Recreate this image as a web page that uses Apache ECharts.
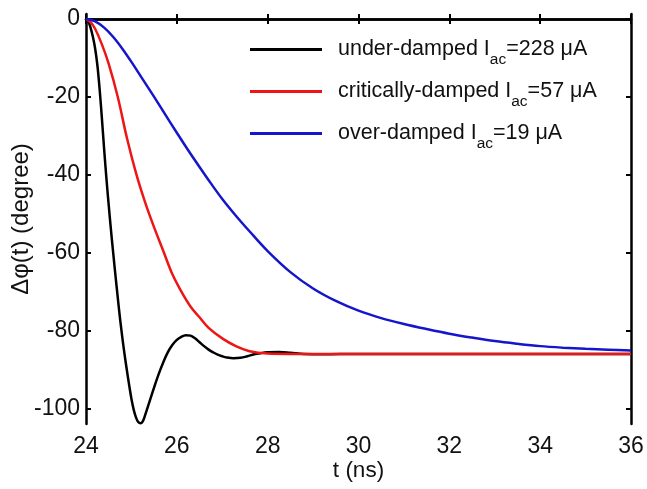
<!DOCTYPE html>
<html>
<head>
<meta charset="utf-8">
<script src="https://cdn.jsdelivr.net/npm/echarts@6/dist/echarts.min.js"></script>
<style>
  html, body { margin: 0; padding: 0; background: #fff; }
  #chart { width: 647px; height: 489px; }
</style>
</head>
<body>
<div id="chart"></div>
<script>
// 读图得到的数据 (t in ns, Δφ in degree)
var xTicks = [24, 26, 28, 30, 32, 34, 36];
var yTicks = [0, -20, -40, -60, -80, -100];

var underT = [24.0, 24.05, 24.1, 24.15, 24.2, 24.25, 24.3, 24.35, 24.4, 24.45, 24.5, 24.55, 24.6, 24.65,
  24.7, 24.75, 24.8, 24.85, 24.9, 24.95, 25.0, 25.05, 25.1, 25.15, 25.2, 25.25, 25.3, 25.4, 25.5, 25.6,
  25.7, 25.8, 25.9, 26.0, 26.1, 26.2, 26.3, 26.4, 26.5, 26.6, 26.7, 26.8, 26.9, 27.0, 27.1, 27.25, 27.4,
  27.55, 27.7, 27.85, 28.0, 28.25, 28.5, 28.8, 29.2, 30, 32, 34, 36];
var underV = [0, -0.6, -2.2, -4.5, -7.5, -11.8, -18, -25.5, -33.5, -41, -47.8, -54.2, -60.2, -66,
  -71.6, -77, -81.8, -86.2, -90.2, -94, -97.5, -100.3, -102.3, -103.5, -103.8, -103.3, -101.8, -98.2, -94.6, -91.2,
  -88.2, -85.6, -83.7, -82.4, -81.6, -81.2, -81.3, -82.0, -83.0, -84.0, -84.9, -85.6, -86.2, -86.6, -86.9, -87.1, -87.0,
  -86.6, -86.1, -85.8, -85.6, -85.5, -85.7, -86.0, -86.1, -86, -86, -86, -86];

var critT = [24.0, 24.1, 24.2, 24.35, 24.5, 24.7, 24.9, 25.1, 25.3, 25.5, 25.7, 25.9, 26.1, 26.3, 26.5,
  26.7, 27.0, 27.3, 27.6, 28.0, 28.5, 30, 32, 34, 36];
var critV = [0, -0.8, -2.5, -6.5, -11.5, -20, -30.5, -39.5, -47, -53.5, -59.5, -65.5, -70, -73.8, -76.6,
  -79.3, -82, -84, -85.3, -85.9, -86, -86, -86, -86, -86];

var overT = [24.0, 24.2, 24.4, 24.6, 24.8, 25.0, 25.25, 25.5, 25.75, 26.0, 26.25, 26.5, 26.75, 27.0, 27.3,
  27.6, 28.0, 28.5, 29.0, 29.5, 30.0, 30.5, 31.0, 31.5, 32.0, 32.5, 33.0, 33.5, 34.0, 34.5, 35.0, 35.5, 36.0];
var overV = [0, -0.6, -2.2, -4.6, -7.6, -11.0, -15.5, -20.0, -24.6, -29.2, -33.7, -38.0, -42.2, -46.2, -50.5,
  -54.5, -59.6, -65.0, -69.2, -72.4, -74.9, -76.8, -78.3, -79.6, -80.8, -81.8, -82.7, -83.4, -84.0, -84.4, -84.7, -84.9, -85.1];

var names = ['under', 'critical', 'over'];
var legendText = {
  under: '{m|under-damped I}{s|ac}{m|=228 μA}',
  critical: '{m|critically-damped I}{s|ac}{m|=57 μA}',
  over: '{m|over-damped I}{s|ac}{m|=19 μA}'
};

function pairs(ts, vs) {
  return ts.map(function (t, i) { return [t, vs[i]]; });
}

var font = 'Liberation Sans, Arial, Helvetica, sans-serif';
var chart = echarts.init(document.getElementById('chart'));

var axisLine = { show: true, lineStyle: { color: '#000', width: 2.5 } };
var tickIn = { show: true, inside: true, length: 5, lineStyle: { color: '#000', width: 2 } };

var option = {
  backgroundColor: '#fff',
  animation: false,
  grid: { left: 86, right: 16, top: 14, bottom: 65, containLabel: false, outerBoundsMode: 'none' },
  legend: {
    orient: 'vertical',
    left: 245,
    top: 28,
    itemWidth: 72,
    itemHeight: 3,
    itemGap: 7,
    icon: 'rect',
    selectedMode: false,
    data: names,
    formatter: function (n) { return legendText[n]; },
    textStyle: {
      padding: [0, 0, 0, 11],
      rich: {
        m: { fontFamily: font, fontSize: 21.5, color: '#111', lineHeight: 33, verticalAlign: 'middle' },
        s: { fontFamily: font, fontSize: 15.5, color: '#111', lineHeight: 14, verticalAlign: 'top', padding: [19, 0, 0, 0] }
      }
    }
  },
  xAxis: [{
    type: 'value',
    min: 24, max: 36, interval: 2,
    name: 't (ns)',
    nameLocation: 'middle',
    nameGap: 35,
    nameMoveOverlap: false,
    nameTextStyle: { fontFamily: font, fontSize: 22.5, color: '#111' },
    axisLine: axisLine,
    axisTick: tickIn,
    splitLine: { show: false },
    axisLabel: { fontFamily: font, fontSize: 23, color: '#111', margin: 11 }
  }, {
    type: 'value',
    position: 'top',
    min: 24, max: 36, interval: 2,
    axisLine: axisLine,
    axisTick: tickIn,
    splitLine: { show: false },
    axisLabel: { show: false }
  }],
  yAxis: [{
    type: 'value',
    min: -104, max: 1.3,
    name: 'Δφ(t) (degree)',
    nameLocation: 'middle',
    nameGap: 53,
    nameMoveOverlap: false,
    nameTextStyle: { fontFamily: font, fontSize: 24, color: '#111' },
    axisLine: axisLine,
    axisTick: Object.assign({ customValues: yTicks }, tickIn),
    splitLine: { show: false },
    axisLabel: { customValues: yTicks, fontFamily: font, fontSize: 23, color: '#111', margin: 6 }
  }, {
    type: 'value',
    position: 'right',
    min: -104, max: 1.3,
    axisLine: axisLine,
    axisTick: Object.assign({ customValues: yTicks }, tickIn),
    splitLine: { show: false },
    axisLabel: { show: false }
  }],
  series: [
    { name: 'under', type: 'line', data: pairs(underT, underV), color: '#000000' },
    { name: 'critical', type: 'line', data: pairs(critT, critV), color: '#ee1515' },
    { name: 'over', type: 'line', data: pairs(overT, overV), color: '#1515cc' }
  ].map(function (s) {
    s.showSymbol = false;
    s.smooth = 0.35;
    s.lineStyle = { width: 2.5, color: s.color };
    s.itemStyle = { color: s.color };
    return s;
  })
};

chart.setOption(option);
</script>
</body>
</html>
